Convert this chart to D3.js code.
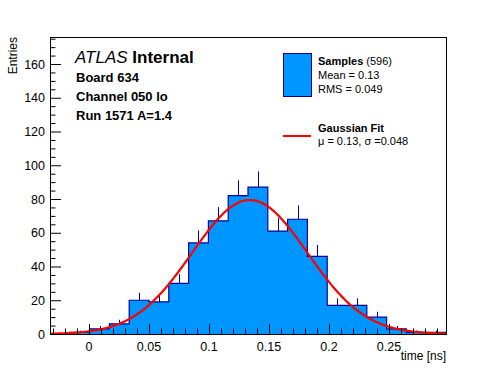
<!DOCTYPE html>
<html>
<head>
<meta charset="utf-8">
<script src="https://cdn.jsdelivr.net/npm/d3@7"></script>
<style>
  body { margin: 0; background: #fff; }
  svg { display: block; font-family: 'Liberation Sans', Arial, Helvetica, sans-serif; }
</style>
</head>
<body>
<svg width="496" height="372"></svg>
<script>
// Data

const xRange = [-0.0325, 0.2975]
const binCounts = [0, 1, 3, 6, 20, 19, 30, 54, 67, 82, 87, 61, 68, 46, 17, 17, 10, 3, 1, 1]
const xTicks = [0, 0.05, 0.1, 0.15, 0.2, 0.25]
const xTickLabels = ['0', '0.05', '0.1', '0.15', '0.2', '0.25']
const yTicks = [0, 20, 40, 60, 80, 100, 120, 140, 160]
const yMax = 176

// gaussian fit drawn as the fitted function
const fitAmp = 79.4
const fitMean = 0.134
const fitSigma = 0.048

const infoLines = ['Board 634', 'Channel 050 lo', 'Run 1571 A=1.4']

// Layout

const frame = {left: 50, right: 446, top: 37, bottom: 334}
const fillColor = '#0096ff'
const lineColor = '#000099'

const svg = d3.select('svg')

const x = d3.scaleLinear()
    .domain(xRange)
    .range([frame.left, frame.right])

const y = d3.scaleLinear()
    .domain([0, yMax])
    .range([frame.bottom, frame.top])

const binWidth = (xRange[1] - xRange[0]) / binCounts.length
const bins = binCounts.map((n, i) => ({
  x0: xRange[0] + i*binWidth,
  x1: xRange[0] + (i+1)*binWidth,
  n,
}))

// Error bars (drawn first, the fill hides the lower half)

svg.append('g')
    .attr('class', 'errors')
  .selectAll('line')
  .data(bins.filter(d => d.n > 0))
  .join('line')
    .attr('x1', d => Math.round(x((d.x0 + d.x1)/2)) + 0.5)
    .attr('x2', d => Math.round(x((d.x0 + d.x1)/2)) + 0.5)
    .attr('y1', d => y(d.n - Math.sqrt(d.n)))
    .attr('y2', d => y(d.n + Math.sqrt(d.n)))
    .attr('stroke', lineColor)
    .attr('stroke-width', 1)

// Histogram fill + step outline

const stepPoints = [[bins[0].x0, 0]]
bins.forEach(d => {
  stepPoints.push([d.x0, d.n])
  stepPoints.push([d.x1, d.n])
})
stepPoints.push([bins[bins.length-1].x1, 0])

const stepLine = d3.line()
    .x(d => x(d[0]))
    .y(d => y(d[1]))

svg.append('path')
    .attr('d', stepLine(stepPoints) + 'Z')
    .attr('fill', fillColor)
    .attr('stroke', 'none')

svg.append('path')
    .attr('d', stepLine(stepPoints))
    .attr('fill', 'none')
    .attr('stroke', lineColor)
    .attr('stroke-width', 1.2)

// Fit curve

const fitXs = d3.range(xRange[0], xRange[1] + 0.0005, 0.001)
const fitLine = d3.line()
    .x(d => x(d))
    .y(d => y(fitAmp*Math.exp(-0.5*Math.pow((d - fitMean)/fitSigma, 2))))

svg.append('path')
    .attr('d', fitLine(fitXs))
    .attr('fill', 'none')
    .attr('stroke', '#ff0000')
    .attr('stroke-width', 2.2)

// Axes (ROOT style, ticks inside the frame)

const yAxis = svg.append('g')
    .attr('transform', `translate(${frame.left},0)`)
    .call(d3.axisRight(y).tickValues(d3.range(0, yMax + 1, 5)).tickSize(0).tickFormat(''))

yAxis.select('.domain').remove()
yAxis.selectAll('.tick line')
    .attr('x2', d => d % 20 === 0 ? 11 : 5.5)
    .attr('stroke', '#000')

svg.append('g')
  .selectAll('text')
  .data(yTicks)
  .join('text')
    .attr('x', frame.left - 5)
    .attr('y', d => y(d) + 4.5)
    .attr('text-anchor', 'end')
    .attr('font-size', 12.5)
    .text(d => d)

const xAxis = svg.append('g')
    .attr('transform', `translate(0,${frame.bottom})`)
    .call(d3.axisTop(x).tickValues(d3.range(-0.03, 0.2951, 0.01)).tickSize(0).tickFormat(''))

xAxis.select('.domain').remove()
xAxis.selectAll('.tick line')
    .attr('y2', d => Math.abs(Math.round(d*100) % 5) === 0 ? -10 : -5.5)
    .attr('stroke', '#000')

svg.append('g')
  .selectAll('text')
  .data(xTicks)
  .join('text')
    .attr('x', d => x(d))
    .attr('y', frame.bottom + 17)
    .attr('text-anchor', 'middle')
    .attr('font-size', 12.5)
    .text((d, i) => xTickLabels[i])

svg.append('rect')
    .attr('x', frame.left + 0.5)
    .attr('y', frame.top + 0.5)
    .attr('width', frame.right - frame.left)
    .attr('height', frame.bottom - frame.top)
    .attr('fill', 'none')
    .attr('stroke', '#000')
    .attr('stroke-width', 1)

svg.append('text')
    .attr('x', frame.right)
    .attr('y', frame.bottom + 26)
    .attr('text-anchor', 'end')
    .attr('font-size', 12)
    .text('time [ns]')

svg.append('text')
    .attr('transform', `translate(17,${frame.top}) rotate(-90)`)
    .attr('text-anchor', 'end')
    .attr('font-size', 12)
    .text('Entries')

// Labels

const atlas = svg.append('text')
    .attr('x', 75)
    .attr('y', 63)
    .attr('font-size', 17)

atlas.append('tspan')
    .attr('font-style', 'italic')
    .text('ATLAS')

atlas.append('tspan')
    .attr('font-weight', 'bold')
    .text(' Internal')

svg.append('g')
  .selectAll('text')
  .data(infoLines)
  .join('text')
    .attr('x', 76)
    .attr('y', (d, i) => 82 + i*19)
    .attr('font-size', 13)
    .attr('font-weight', 'bold')
    .text(d => d)

// Legend

const legend = svg.append('g')

legend.append('rect')
    .attr('x', 283.5)
    .attr('y', 53.5)
    .attr('width', 28)
    .attr('height', 43)
    .attr('fill', fillColor)
    .attr('stroke', lineColor)

const samples = legend.append('text')
    .attr('x', 318)
    .attr('y', 65)
    .attr('font-size', 11)

samples.append('tspan')
    .attr('font-weight', 'bold')
    .text('Samples')

samples.append('tspan')
    .text(' (596)')

legend.append('text')
    .attr('x', 318)
    .attr('y', 79)
    .attr('font-size', 11)
    .text('Mean = 0.13')

legend.append('text')
    .attr('x', 318)
    .attr('y', 93)
    .attr('font-size', 11)
    .text('RMS = 0.049')

legend.append('line')
    .attr('x1', 283)
    .attr('x2', 311)
    .attr('y1', 136)
    .attr('y2', 136)
    .attr('stroke', '#ff0000')
    .attr('stroke-width', 2)

legend.append('text')
    .attr('x', 318)
    .attr('y', 132)
    .attr('font-size', 11)
    .attr('font-weight', 'bold')
    .text('Gaussian Fit')

legend.append('text')
    .attr('x', 318)
    .attr('y', 145)
    .attr('font-size', 11)
    .text('\u03bc = 0.13, \u03c3 =0.048')
</script>
</body>
</html>
